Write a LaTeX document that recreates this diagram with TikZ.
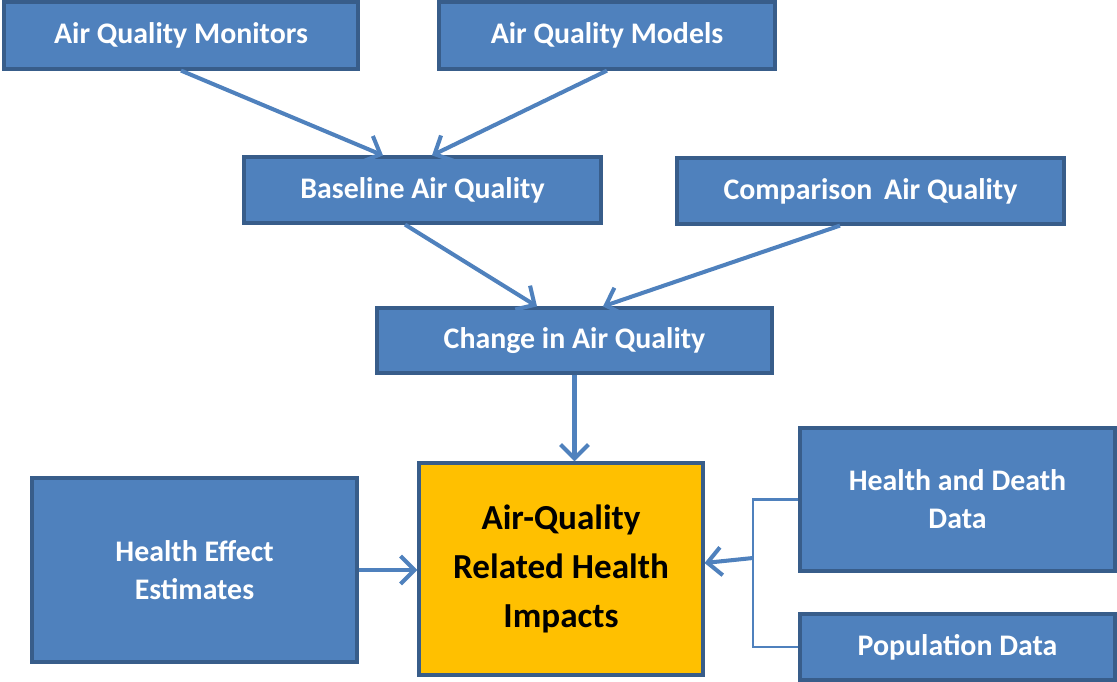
\documentclass[tikz,border=0pt]{standalone}
\usepackage{fontspec}
\setmainfont{Carlito}
\usetikzlibrary{arrows.meta}

\definecolor{boxblue}{HTML}{4F81BD}
\definecolor{boxedge}{HTML}{385D8A}
\definecolor{impactfill}{HTML}{FFC000}

\tikzset{
  box/.style={draw=boxedge, fill=boxblue, line width=1.8pt, text=white,
    font=\bfseries\fontsize{17}{21.6}\selectfont, align=center, inner sep=0pt},
  impact/.style={box, fill=impactfill, text=black,
    font=\bfseries\fontsize{20}{28}\selectfont},
  flow/.style={draw=boxblue, line width=2.3pt,
    -{Straight Barb[length=2.8mm,width=5.6mm,line width=2.3pt]}},
  feed/.style={draw=boxblue, line width=1.5pt}
}

\begin{document}
\begin{tikzpicture}[x=0.02cm, y=-0.02cm]
    \useasboundingbox (0,0) rectangle (1117,682);

    % sources of air quality data
    \node [box, minimum width=7.08cm, minimum height=1.34cm] (mon) at (181,35.5) {Air Quality Monitors};
    \node [box, minimum width=6.72cm, minimum height=1.34cm] (mod) at (607,35.5) {Air Quality Models};

    % scenarios
    \node [box, minimum width=7.14cm, minimum height=1.32cm] (base) at (422.5,190) {Baseline Air Quality};
    \node [box, minimum width=7.74cm, minimum height=1.32cm] (comp) at (870.5,191) {Comparison\, Air Quality};
    \node [box, minimum width=7.9cm, minimum height=1.30cm] (chg) at (574.5,340.5) {Change in Air Quality};

    % inputs to the impact estimate
    \node [box, minimum width=6.5cm, minimum height=3.68cm] (hee) at (194.5,570) {Health Effect\\Estimates};
    \node [impact, minimum width=5.68cm, minimum height=4.24cm] (imp) at (561,569) {Air-Quality\\Related Health\\Impacts};
    \node [box, minimum width=6.3cm, minimum height=2.86cm] (hdd) at (957.5,499.5) {Health and Death\\Data};
    \node [box, minimum width=6.3cm, minimum height=1.32cm] (pop) at (957.5,647) {Population Data};

    \coordinate (jn) at (753,558);

    % arrows
    \draw [flow] (mon.south) -- ([xshift=-0.79cm]base.north);
    \draw [flow] (mod.south) -- ([xshift=0.19cm]base.north);
    \draw [flow] ([xshift=-0.35cm]base.south) -- ([xshift=-0.75cm]chg.north);
    \draw [flow] ([xshift=-0.61cm]comp.south) -- ([xshift=0.57cm]chg.north);
    \draw [flow] (chg.south) -- (chg.south |- imp.north);
    \draw [flow] (hee.east) -- (hee.east -| imp.west);

    % bracket joining the two data boxes
    \draw [feed] (hdd.west) -| (jn) |- (pop.west);
    \draw [flow] (jn) -- ([yshift=0.12cm]imp.east);
\end{tikzpicture}
\end{document}
